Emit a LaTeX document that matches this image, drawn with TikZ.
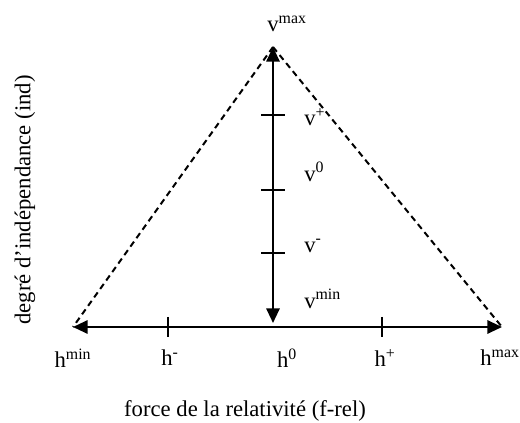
\documentclass[tikz,border=0pt]{standalone}
\usepackage{fontspec}
\setmainfont{Liberation Serif}
\usetikzlibrary{positioning, arrows.meta}

\tikzset{
  axisline/.style={line width=1.5pt, {Triangle[length=11pt,width=10pt]}-{Triangle[length=11pt,width=10pt]}},
  edgeline/.style={line width=1.5pt, dash pattern=on 4.6pt off 3.2pt},
  tickmark/.style={line width=1.7pt},
  lbl/.style={inner sep=0pt}
}

\begin{document}
\begin{tikzpicture}[x=0.75pt, y=-0.75pt, font=\fontsize{17}{20}\selectfont]
    \useasboundingbox (0,0) rectangle (520,423);
    % corners of the triangle
    \coordinate (top) at (273,47);
    \coordinate (hmin) at (73,327);
    \coordinate (hmax) at (502,327);
    \coordinate (vbot) at (273,323);
    % ticks
    \coordinate (vplus) at (273,115);
    \coordinate (vzero) at (273,190);
    \coordinate (vminus) at (273,253);
    \coordinate (hminus) at (168,327);
    \coordinate (hplus) at (382,327);

    \draw[edgeline] (top) -- (hmin);
    \draw[edgeline] (top) -- (hmax);
    \draw[axisline] (top) -- (vbot);
    \draw[axisline] (hmin) -- (hmax);

    \foreach \t in {vplus, vzero, vminus}
      \draw[tickmark] (\t) ++(-12,0) -- ++(24,0);
    \foreach \t in {hminus, hplus}
      \draw[tickmark] (\t) ++(0,-10) -- ++(0,20);

    % labels
    \node[lbl] (lvmax) at (287,24) {v\textsuperscript{max}};
    \node[lbl, anchor=west] (lvplus) at (304,117) {v\textsuperscript{+}};
    \node[lbl, anchor=west] (lvzero) at (304,172) {v\textsuperscript{0}};
    \node[lbl, anchor=west] (lvminus) at (304,246) {v\textsuperscript{-}};
    \node[lbl, anchor=west] (lvmin) at (304,299) {v\textsuperscript{min}};
    \node[lbl] (lhmin) at (73,358) {h\textsuperscript{min}};
    \node[lbl] (lhminus) at (170,358) {h\textsuperscript{-}};
    \node[lbl] (lhzero) at (287,358) {h\textsuperscript{0}};
    \node[lbl] (lhplus) at (385,358) {h\textsuperscript{+}};
    \node[lbl] (lhmax) at (500,358) {h\textsuperscript{max}};
    \node[lbl, rotate=90] (ind) at (25,200) {degré d’indépendance (ind)};
    \node[lbl] (frel) at (245,411) {force de la relativité (f-rel)};
\end{tikzpicture}
\end{document}
